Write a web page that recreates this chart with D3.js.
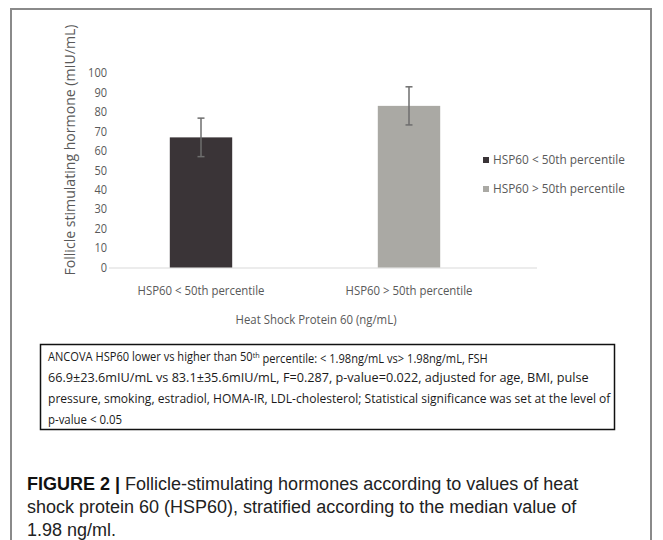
<!DOCTYPE html>
<html>
<head>
<meta charset="utf-8">
<script src="https://cdn.jsdelivr.net/npm/d3@7"></script>
<style>
  body { margin: 0; background: #fff; }
  svg { display: block; }
</style>
</head>
<body>
<svg id="chart" width="663" height="540"></svg>
<script>
// values
let categories = ["HSP60 < 50th percentile", "HSP60 > 50th percentile"]
let fshMeans = [66.9, 83.1]
let fshErrors = [9.9, 9.8]
let yTicks = [0, 10, 20, 30, 40, 50, 60, 70, 80, 90, 100]
let barColors = ["#3a3437", "#aaa9a4"]
let yTitle = "Follicle stimulating hormone (mIU/mL)"
let xTitle = "Heat Shock Protein 60 (ng/mL)"

let noteLines = [
    ["ANCOVA  HSP60 lower vs higher than 50", "th", " percentile: < 1.98ng/mL vs> 1.98ng/mL, FSH"],
    ["66.9±23.6mIU/mL vs 83.1±35.6mIU/mL,  F=0.287,  p-value=0.022, adjusted for age, BMI, pulse"],
    ["pressure, smoking, estradiol, HOMA-IR, LDL-cholesterol;  Statistical significance was set at the level of"],
    ["p-value < 0.05"]
]
let captionBold = "FIGURE 2 | "
let captionLines = [
    "Follicle-stimulating hormones according to values of heat",
    "shock protein 60 (HSP60), stratified according to the median value of",
    "1.98 ng/ml."
]

let svg = d3.select("#chart")
let chartFont = "'Open Sans', 'Noto Sans', sans-serif"
let textGray = "#595959"

// squeeze text to the narrow widths of the original (Calibri-like) font
let fit = (sel, w) => sel.attr("textLength", w).attr("lengthAdjust", "spacingAndGlyphs")

// outer frame (bottom edge falls outside the picture)
svg.append("rect")
    .attr("x", 11).attr("y", 9)
    .attr("width", 640).attr("height", 600)
    .attr("fill", "none")
    .attr("stroke", "#8a8a8a")
    .attr("stroke-width", 2)

// scales
let x = d3.scaleBand().domain(categories).range([97, 513]).padding(0)
let y = d3.scaleLinear().domain([0, 100]).range([267.5, 73])
let barW = x.bandwidth() * 0.3

// y axis labels (no axis line in the original)
let yAxis = svg.append("g")
    .attr("transform", "translate(107,0)")
    .call(d3.axisLeft(y).tickValues(yTicks).tickSize(0).tickPadding(0))
yAxis.select(".domain").remove()
yAxis.selectAll("text")
    .attr("fill", textGray)
    .style("font-family", chartFont)
    .style("font-size", "12px")
    .each(function() { fit(d3.select(this), this.textContent.length * 6.3) })

// x axis
let xAxis = svg.append("g")
    .attr("transform", "translate(0," + y(0) + ")")
    .call(d3.axisBottom(x).tickSize(0).tickPadding(18))
xAxis.select(".domain").attr("stroke", "#d9d9d9").attr("d", "M109,0.5H537")
xAxis.selectAll("text")
    .attr("fill", textGray)
    .style("font-family", chartFont)
    .style("font-size", "13px")
    .call(fit, 127)

// bars
svg.selectAll(".bar")
    .data(categories)
    .enter().append("rect")
    .attr("class", "bar")
    .attr("x", (d) => x(d) + (x.bandwidth() - barW) / 2)
    .attr("width", barW)
    .attr("y", (d, i) => y(fshMeans[i]))
    .attr("height", (d, i) => y(0) - y(fshMeans[i]))
    .attr("fill", (d, i) => barColors[i])

// error bars
let err = svg.selectAll(".err")
    .data(categories)
    .enter().append("g")
    .attr("class", "err")
    .attr("stroke", "#6e6e6e")
    .attr("stroke-width", 1.5)
err.append("line")
    .attr("x1", (d) => x(d) + x.bandwidth() / 2)
    .attr("x2", (d) => x(d) + x.bandwidth() / 2)
    .attr("y1", (d, i) => y(fshMeans[i] + fshErrors[i]))
    .attr("y2", (d, i) => y(fshMeans[i] - fshErrors[i]))
err.selectAll(".cap")
    .data((d, i) => [[d, fshMeans[i] + fshErrors[i]], [d, fshMeans[i] - fshErrors[i]]])
    .enter().append("line")
    .attr("x1", (d) => x(d[0]) + x.bandwidth() / 2 - 3.5)
    .attr("x2", (d) => x(d[0]) + x.bandwidth() / 2 + 3.5)
    .attr("y1", (d) => y(d[1]))
    .attr("y2", (d) => y(d[1]))

// axis titles
svg.append("text")
    .attr("transform", "translate(75,150) rotate(-90)")
    .attr("text-anchor", "middle")
    .attr("fill", textGray)
    .style("font-family", chartFont)
    .style("font-size", "15px")
    .call(fit, 251)
    .text(yTitle)

svg.append("text")
    .attr("x", 316).attr("y", 324)
    .attr("text-anchor", "middle")
    .attr("fill", textGray)
    .style("font-family", chartFont)
    .style("font-size", "13px")
    .call(fit, 161)
    .text(xTitle)

// legend
let legend = svg.selectAll(".legend")
    .data(categories)
    .enter().append("g")
    .attr("class", "legend")
    .attr("transform", (d, i) => "translate(483," + (160 + i * 29) + ")")
legend.append("rect")
    .attr("x", 0).attr("y", -3)
    .attr("width", 6).attr("height", 6)
    .attr("fill", (d, i) => barColors[i])
legend.append("text")
    .attr("x", 10).attr("dy", "0.35em")
    .attr("fill", textGray)
    .style("font-family", chartFont)
    .style("font-size", "12.5px")
    .call(fit, 132)
    .text((d) => d)

// note box
svg.append("rect")
    .attr("x", 40.5).attr("y", 344.5)
    .attr("width", 574).attr("height", 85)
    .attr("fill", "#fff")
    .attr("stroke", "#111")
    .attr("stroke-width", 1.5)

// each line is squeezed horizontally to the width it has in the original
let noteWidths = [440, 545, 563, 0]
let note = svg.append("g")
    .style("font-family", chartFont)
    .style("font-size", "12.3px")
    .attr("fill", "#1a1a1a")
noteLines.forEach((parts, i) => {
    let g = note.append("g")
    let t = g.append("text")
    parts.forEach((p, j) => {
        let s = t.append("tspan").text(p)
        if (p === "th") s.attr("dy", "-0.4em").style("font-size", "8px")
        else if (j > 0 && parts[j - 1] === "th") s.attr("dy", "0.4em")
    })
    let natural = t.node().getComputedTextLength()
    let sx = noteWidths[i] ? Math.max(0.86, Math.min(1.03, noteWidths[i] / natural)) : 0.93
    g.attr("transform", "translate(48," + (361 + i * 21) + ") scale(" + sx + ",1)")
})

// caption
let cap = svg.append("g")
    .style("font-family", "'Liberation Sans', Arial, sans-serif")
    .style("font-size", "18px")
    .attr("fill", "#222")
captionLines.forEach((line, i) => {
    let t = cap.append("text").attr("x", 27).attr("y", 490 + i * 23)
    if (i === 0) t.append("tspan").style("font-weight", "bold").attr("fill", "#111").text(captionBold)
    t.append("tspan").text(line)
})
</script>
</body>
</html>
